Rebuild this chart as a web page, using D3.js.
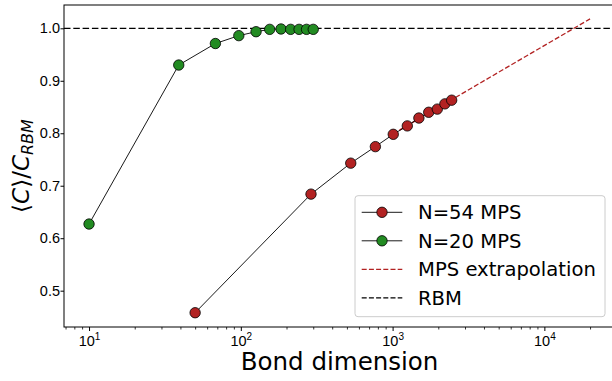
<!DOCTYPE html>
<html>
<head>
<meta charset="utf-8">
<script src="https://cdn.jsdelivr.net/npm/d3@7"></script>
<style>
  body { margin: 0; background: #fff; }
  svg { display: block; font-family: "DejaVu Sans", sans-serif; }
</style>
</head>
<body>
<div id="chart"></div>
<script>
// data
const bondN54 = [50, 290, 530, 770, 1010, 1250, 1490, 1730, 1970, 2210, 2450];
const ratioN54 = [0.458, 0.684, 0.743, 0.7745, 0.798, 0.814, 0.829, 0.840, 0.846, 0.856, 0.863];
const bondN20 = [10, 39, 68, 97, 126, 155, 184, 213, 242, 271, 300];
const ratioN20 = [0.627, 0.930, 0.971, 0.986, 0.9935, 0.998, 0.9987, 0.998, 0.998, 0.998, 0.998];
const extrapBond = [1010, 20000];
const extrapRatio = [0.799, 1.018];
const rbmLevel = 1.0;

const xTickValues = [10, 100, 1000, 10000];
const xTickExponents = ["1", "2", "3", "4"];
const yTickValues = [0.5, 0.6, 0.7, 0.8, 0.9, 1.0];
const yTickLabels = ["0.5", "0.6", "0.7", "0.8", "0.9", "1.0"];

const legendLabels = ["N=54 MPS", "N=20 MPS", "MPS extrapolation", "RBM"];

const width = 612, height = 381;
const plot = { left: 64, right: 615.1, top: 5, bottom: 327 };

const svg = d3.select("#chart").append("svg")
  .attr("width", width)
  .attr("height", height);

const x = d3.scaleLog()
  .domain([Math.pow(10, 0.835), Math.pow(10, 4.466)])
  .range([plot.left, plot.right]);
const y = d3.scaleLinear()
  .domain([0.4308, 1.0444])
  .range([plot.bottom, plot.top]);

const red = "#b22222", green = "#228b22";

// x axis: majors with labels, minors without
const minorX = x.ticks().filter(d => !xTickValues.includes(d));
svg.append("g")
  .attr("transform", `translate(0,${plot.bottom})`)
  .call(d3.axisBottom(x).tickValues(minorX).tickSize(2.5).tickFormat(""))
  .call(g => g.select(".domain").remove())
  .call(g => g.selectAll("line").attr("stroke", "#000").attr("stroke-width", 0.8));

const xAxis = svg.append("g")
  .attr("transform", `translate(0,${plot.bottom})`)
  .call(d3.axisBottom(x).tickValues(xTickValues).tickSize(4).tickFormat(""));
xAxis.select(".domain").remove();
xAxis.selectAll("line").attr("stroke", "#000").attr("stroke-width", 1);
xAxis.selectAll(".tick").each(function (d, i) {
  const t = d3.select(this).append("text")
    .attr("y", 19)
    .attr("fill", "#000")
    .attr("font-size", 14.5)
    .attr("text-anchor", "middle");
  t.append("tspan").text("10");
  t.append("tspan").attr("font-size", 10).attr("dy", -6).text(xTickExponents[i]);
});

// y axis
const yAxis = svg.append("g")
  .attr("transform", `translate(${plot.left},0)`)
  .call(d3.axisLeft(y).tickValues(yTickValues).tickSize(3.5).tickPadding(0.5)
    .tickFormat((d, i) => yTickLabels[i]));
yAxis.select(".domain").remove();
yAxis.selectAll("line").attr("stroke", "#000").attr("stroke-width", 1);
yAxis.selectAll("text").attr("font-size", 14.5).attr("fill", "#000");

// spines
svg.append("rect")
  .attr("x", plot.left).attr("y", plot.top)
  .attr("width", plot.right - plot.left).attr("height", plot.bottom - plot.top)
  .attr("fill", "none").attr("stroke", "#000").attr("stroke-width", 1);

// RBM reference line
svg.append("line")
  .attr("x1", plot.left).attr("x2", plot.right)
  .attr("y1", y(rbmLevel)).attr("y2", y(rbmLevel))
  .attr("stroke", "#000").attr("stroke-width", 1.3)
  .attr("stroke-dasharray", "6.5,2.8");

// extrapolation
const line = d3.line().x(d => x(d[0])).y(d => y(d[1]));
svg.append("path")
  .attr("d", line(d3.zip(extrapBond, extrapRatio)))
  .attr("fill", "none").attr("stroke", red).attr("stroke-width", 1.3)
  .attr("stroke-dasharray", "5,2.2");

// series
function drawSeries(xs, ys, color) {
  const pts = d3.zip(xs, ys);
  svg.append("path")
    .attr("d", line(pts))
    .attr("fill", "none").attr("stroke", "#000").attr("stroke-width", 0.9);
  svg.append("g").selectAll("circle")
    .data(pts)
    .join("circle")
    .attr("cx", d => x(d[0]))
    .attr("cy", d => y(d[1]))
    .attr("r", 5.2)
    .attr("fill", color)
    .attr("stroke", "#000").attr("stroke-width", 0.8);
}
drawSeries(bondN54, ratioN54, red);
drawSeries(bondN20, ratioN20, green);

// axis labels
svg.append("text")
  .attr("x", (plot.left + plot.right) / 2)
  .attr("y", 370)
  .attr("text-anchor", "middle")
  .attr("font-size", 24.5)
  .text("Bond dimension");

const yl = svg.append("text")
  .attr("transform", `translate(29,${(plot.top + plot.bottom) / 2}) rotate(-90)`)
  .attr("text-anchor", "middle")
  .attr("font-size", 23);
yl.append("tspan").text("\u27E8");
yl.append("tspan").attr("font-style", "italic").text("C");
yl.append("tspan").text("\u27E9/");
yl.append("tspan").attr("font-style", "italic").text("C");
yl.append("tspan").attr("font-style", "italic").attr("font-size", 16).attr("dy", 4).text("RBM");

// legend
const legend = svg.append("g");
legend.append("rect")
  .attr("x", 355).attr("y", 195.7)
  .attr("width", 250).attr("height", 121)
  .attr("rx", 3).attr("ry", 3)
  .attr("fill", "#fff").attr("fill-opacity", 0.8)
  .attr("stroke", "#ccc").attr("stroke-width", 1);

const legendStyles = [
  { stroke: "#000", dash: null, marker: red },
  { stroke: "#000", dash: null, marker: green },
  { stroke: red, dash: "5,2.2", marker: null },
  { stroke: "#000", dash: "5,2.2", marker: null },
];
legendLabels.forEach((label, i) => {
  const ly = 212.3 + i * 28.5;
  const s = legendStyles[i];
  legend.append("line")
    .attr("x1", 361.7).attr("x2", 402.3)
    .attr("y1", ly).attr("y2", ly)
    .attr("stroke", s.stroke)
    .attr("stroke-width", s.dash ? 1.3 : 0.9)
    .attr("stroke-dasharray", s.dash);
  if (s.marker) {
    legend.append("circle")
      .attr("cx", 382).attr("cy", ly).attr("r", 5.2)
      .attr("fill", s.marker).attr("stroke", "#000").attr("stroke-width", 0.8);
  }
  legend.append("text")
    .attr("x", 418).attr("y", ly)
    .attr("dy", "0.36em")
    .attr("font-size", 19.6)
    .text(label);
});
</script>
</body>
</html>
